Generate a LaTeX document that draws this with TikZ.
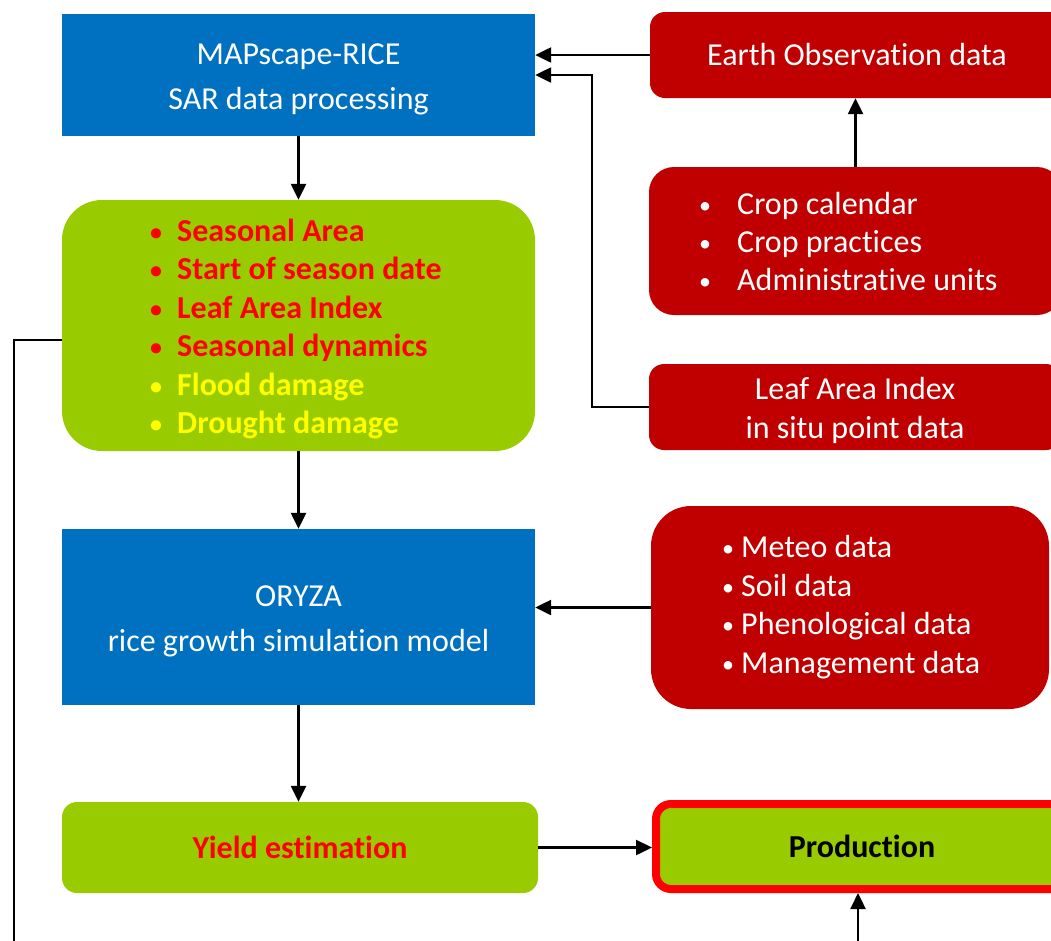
\documentclass[tikz,border=0pt]{standalone}
\usepackage{fontspec}
\setmainfont{Carlito}[Ligatures=NoCommon]
\usetikzlibrary{arrows.meta,calc}
\definecolor{boxblue}{HTML}{0070C0}
\definecolor{boxgreen}{HTML}{99CC00}
\definecolor{boxred}{HTML}{C00000}
\definecolor{txtred}{HTML}{FF0000}
\definecolor{txtyellow}{HTML}{FFFF00}
\newcommand{\blt}{\raisebox{1pt}{\scalebox{0.75}{•}}}
\begin{document}
\begin{tikzpicture}[x=1pt,y=-1pt,
  bluebox/.style={fill=boxblue, draw=none},
  bluetext/.style={text=white, align=center, inner sep=0pt, font=\fontsize{32}{45}\selectfont},
  greenbox/.style={fill=boxgreen, draw=none},
  redbox/.style={fill=boxred, draw=none, text=white, font=\fontsize{32}{39}\selectfont},
  listtext/.style={align=left, inner sep=0pt},
  arr/.style={line width=2.4pt, -{Triangle[length=16pt,width=15pt]}},
  plain/.style={line width=2.4pt}
]
\useasboundingbox (0,0) rectangle (1051,940);
\clip (0,0) rectangle (1051,940);

% left column
\node[bluebox, minimum width=473pt, minimum height=122pt] (map) at (298.5,75) {};
\node[bluetext] (maptext) at (298.5,79) {MAPscape-RICE\\SAR data processing};
\node[greenbox, rounded corners=40pt, minimum width=473pt, minimum height=251pt] (green) at (298.5,325.5) {};
\node[listtext, anchor=west, font=\fontsize{32}{38.5}\selectfont\bfseries] (glist) at (148,329)
  {\textcolor{txtred}{\makebox[29pt][l]{\hspace{2pt}\blt}Seasonal Area}\\
   \textcolor{txtred}{\makebox[29pt][l]{\hspace{2pt}\blt}Start of season date}\\
   \textcolor{txtred}{\makebox[29pt][l]{\hspace{2pt}\blt}Leaf Area Index}\\
   \textcolor{txtred}{\makebox[29pt][l]{\hspace{2pt}\blt}Seasonal dynamics}\\
   \textcolor{txtyellow}{\makebox[29pt][l]{\hspace{2pt}\blt}Flood damage}\\
   \textcolor{txtyellow}{\makebox[29pt][l]{\hspace{2pt}\blt}Drought damage}};
\node[bluebox, minimum width=473pt, minimum height=176pt] (oryza) at (298.5,617) {};
\node[bluetext] (oryzatext) at (298.5,621) {ORYZA\\rice growth simulation model};
\node[greenbox, rounded corners=15pt, minimum width=476pt, minimum height=91pt,
  text=txtred, font=\fontsize{32}{33}\selectfont\bfseries] (yield) at (300,847.5) {Yield estimation};

% right column
\node[redbox, rounded corners=15pt, minimum width=414pt, minimum height=86pt] (eo) at (857,55) {Earth Observation data};
\node[redbox, rounded corners=25pt, minimum width=413pt, minimum height=148pt] (crop) at (855.5,241) {};
\node[listtext, anchor=west, text=white, font=\fontsize{32}{38}\selectfont] (clist) at (697,242)
  {\makebox[40pt][l]{\hspace{2pt}\blt}Crop calendar\\
   \makebox[40pt][l]{\hspace{2pt}\blt}Crop practices\\
   \makebox[40pt][l]{\hspace{2pt}\blt}Administrative units};
\node[redbox, rounded corners=15pt, minimum width=412pt, minimum height=86pt] (lai) at (855,407) {};
\node[redbox, fill=none, align=center, inner sep=0pt] (laitext) at (855,410) {Leaf Area Index\\in situ point data};
\node[redbox, rounded corners=40pt, minimum width=398pt, minimum height=203pt] (meteo) at (850,607.5) {};
\node[listtext, anchor=west, text=white, font=\fontsize{32}{38.5}\selectfont] (mlist) at (722,607)
  {\makebox[19pt][l]{\blt}Meteo data\\
   \makebox[19pt][l]{\blt}Soil data\\
   \makebox[19pt][l]{\blt}Phenological data\\
   \makebox[19pt][l]{\blt}Management data};
\node[greenbox, draw=txtred, line width=8pt, rounded corners=15pt, minimum width=412pt, minimum height=85pt,
  font=\fontsize{32}{33}\selectfont\bfseries] (prod) at (862,846.5) {Production};

% connectors
\draw[arr] (eo.west) -- (map.east |- eo.west);
\coordinate (laiturn) at (592,75);
\draw[arr] (lai.west) -| (laiturn) -- (map.east |- laiturn);
\draw[arr] (crop.north) -- (crop.north |- eo.south);
\draw[arr] (map.south) -- (green.north);
\draw[arr] (green.south) -- (oryza.north);
\draw[arr] (oryza.south) -- (oryza.south |- yield.north);
\draw[arr] (meteo.west) -- (oryza.east |- meteo.west);
\draw[arr] (yield.east) -- (prod.west |- yield.east);
\coordinate (pbot) at (858,950);
\draw[arr] (pbot) -- (pbot |- prod.south);
\coordinate (fbot) at (14,950);
\draw[plain] ([yshift=-14.5pt]green.west) -| (fbot);
\end{tikzpicture}
\end{document}
